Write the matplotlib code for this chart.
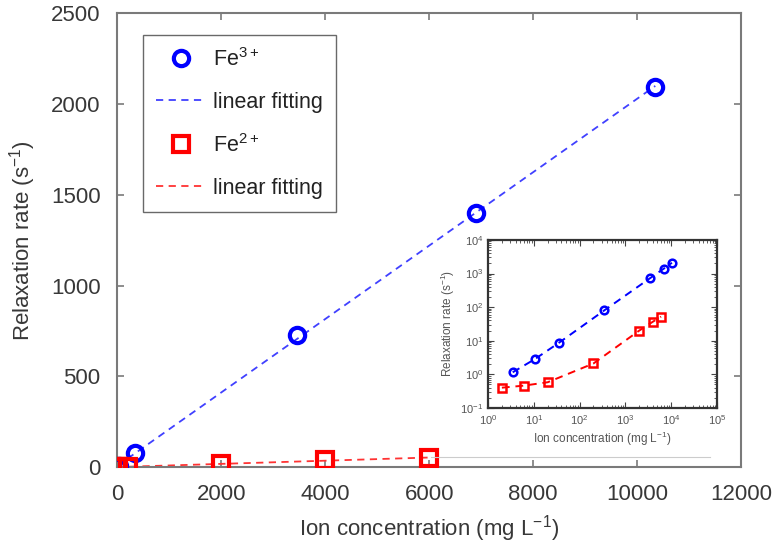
import numpy as np
import matplotlib
matplotlib.use("Agg")
import matplotlib.pyplot as plt
from matplotlib.lines import Line2D

plt.rcParams['font.family'] = ['Liberation Sans', 'DejaVu Sans']
plt.rcParams['mathtext.default'] = 'regular'

# data
fe3_conc = [3.45, 10.35, 34.5, 345, 3450, 6900, 10350]
fe3_rate = [1.15, 2.8, 8.5, 80, 727, 1400, 2093]
fe2_conc = [2, 6, 20, 200, 2000, 4000, 6000]
fe2_rate = [0.4, 0.46, 0.58, 2.1, 20, 37, 52]

x_ticks = [0, 2000, 4000, 6000, 8000, 10000, 12000]
y_ticks = [0, 500, 1000, 1500, 2000, 2500]

blue = (0, 0, 1)
red = (1, 0, 0)
blue_fit = (0.25, 0.25, 1)
red_fit = (1, 0.2, 0.2)
grey = '#7a7a7a'
txt = '#383838'

# linear fits
p3 = np.polyfit(fe3_conc, fe3_rate, 1)
p2 = np.polyfit(fe2_conc, fe2_rate, 1)

fig = plt.figure(figsize=(7.76, 5.49), dpi=100)
ax = fig.add_axes([0.151, 0.149, 0.804, 0.827])

xf3 = np.linspace(0, max(fe3_conc), 50)
xf2 = np.linspace(0, max(fe2_conc), 50)
ax.plot(fe3_conc, fe3_rate, 'o', mfc='none', mec=blue, ms=11, mew=3,
        label='Fe$^{3+}$', zorder=3)
ax.plot(xf3, np.polyval(p3, xf3), '--', color=blue_fit, lw=1.3,
        dashes=(4, 3), label='linear fitting')
ax.plot(fe2_conc, fe2_rate, 's', mfc='none', mec=red, ms=11, mew=3,
        label='Fe$^{2+}$', zorder=3)
ax.plot(xf2, np.polyval(p2, xf2), '--', color=red_fit, lw=1.3,
        dashes=(4, 3), label='linear fitting')

ax.set_xlim(0, 12000)
ax.set_ylim(0, 2500)
ax.set_xticks(x_ticks)
ax.set_yticks(y_ticks)
ax.tick_params(direction='in', length=5, width=1.2, color=grey,
               labelsize=16, labelcolor=txt, top=True, right=True, pad=12)
for s in ax.spines.values():
    s.set_color(grey)
    s.set_linewidth(1.5)
ax.set_xlabel('Ion concentration (mg L$^{-1}$)', fontsize=16, color=txt,
              labelpad=6)
ax.set_ylabel('Relaxation rate (s$^{-1}$)', fontsize=16, color=txt,
              labelpad=9)

leg = ax.legend(loc='upper left', bbox_to_anchor=(0.041, 0.952), fontsize=15.5,
                frameon=True, fancybox=False, edgecolor='#444444',
                handlelength=2.35, labelspacing=0.98, borderpad=0.6,
                handletextpad=0.3, borderaxespad=0)
leg.get_frame().set_linewidth(1.0)
for t in leg.get_texts():
    t.set_color('#222222')

# inset
ins = fig.add_axes([0.629, 0.257, 0.295, 0.306])
ins.plot(fe3_conc, fe3_rate, '--', color=blue, lw=1.4, dashes=(4, 3))
ins.plot(fe2_conc, fe2_rate, '--', color=red, lw=1.4, dashes=(4, 3))
ins.plot(fe3_conc, fe3_rate, 'o', mfc='none', mec=blue, ms=5.5, mew=1.8)
ins.plot(fe2_conc, fe2_rate, 's', mfc='none', mec=red, ms=5.5, mew=1.8)
ins.set_xscale('log')
ins.set_yscale('log')
ins.set_xlim(1, 1e5)
ins.set_ylim(0.1, 1e4)
ins.set_xticks([1, 10, 100, 1e3, 1e4, 1e5])
ins.set_yticks([0.1, 1, 10, 100, 1e3, 1e4])
ins.tick_params(which='both', direction='in', top=True, right=True,
                labelsize=8, labelcolor='#555555', color='#444444')
ins.tick_params(which='major', length=4)
ins.tick_params(which='minor', length=2)
for s in ins.spines.values():
    s.set_color('#333333')
    s.set_linewidth(1.6)
ins.set_xlabel('Ion concentration (mg L$^{-1}$)', fontsize=8.5,
               color='#555555', labelpad=2)
ins.set_ylabel('Relaxation rate (s$^{-1}$)', fontsize=8.5,
               color='#555555', labelpad=2)

# faint edge of the pasted inset
fig.add_artist(Line2D([0.555, 0.915], [0.168, 0.168], color='#cccccc',
                      lw=0.8, transform=fig.transFigure))

fig.savefig('out.png', dpi=100)
